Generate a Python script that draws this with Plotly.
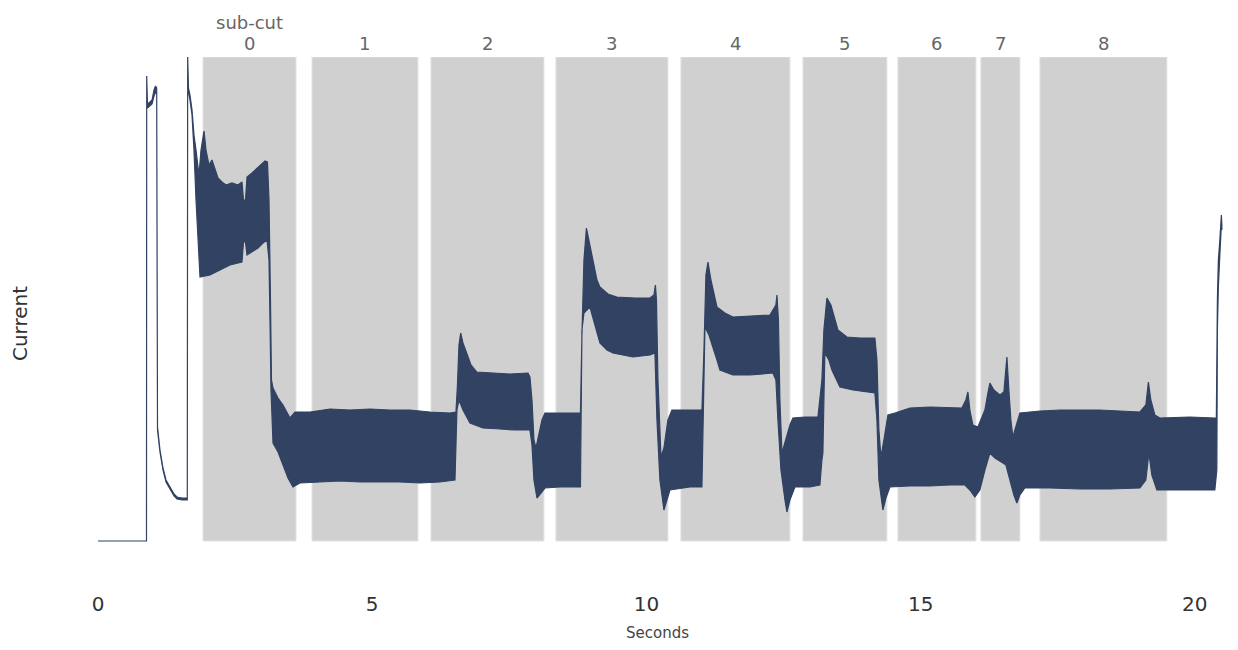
import plotly.graph_objects as go

# ---- data (time in seconds, current in arbitrary units) ----
upper_t = [0, 0.884, 0.888, 0.902, 0.948, 0.985, 1.021, 1.048, 1.070, 1.085, 1.130, 1.185, 1.240,
           1.313, 1.386, 1.440, 1.531, 1.628, 1.635, 1.650, 1.677, 1.714, 1.750, 1.787, 1.841, 1.878,
           1.933, 1.969, 2.024, 2.078, 2.133, 2.188, 2.261, 2.334, 2.443, 2.552, 2.625, 2.653, 2.689,
           2.717, 2.808, 2.899, 2.990, 3.045, 3.090, 3.118, 3.145, 3.163, 3.191, 3.282, 3.373, 3.501,
           3.592, 3.683, 3.865, 4.230, 4.594, 4.959, 5.324, 5.688, 6.053, 6.418, 6.527, 6.554, 6.582,
           6.613, 6.655, 6.722, 6.801, 6.904, 7.147, 7.512, 7.840, 7.876, 7.913, 7.949, 7.986, 8.040,
           8.095, 8.150, 8.423, 8.697, 8.797, 8.824, 8.861, 8.906, 8.970, 9.025, 9.098, 9.152, 9.298,
           9.462, 9.791, 10.064, 10.137, 10.164, 10.183, 10.210, 10.265, 10.319, 10.392, 10.465, 10.793,
           11.012, 11.049, 11.085, 11.122, 11.176, 11.286, 11.431, 11.577, 11.887, 12.252, 12.361,
           12.380, 12.407, 12.434, 12.471, 12.544, 12.617, 12.671, 12.890, 13.127, 13.163, 13.200,
           13.236, 13.291, 13.364, 13.437, 13.492, 13.656, 13.893, 14.166, 14.203, 14.239, 14.276,
           14.330, 14.403, 14.531, 14.804, 15.169, 15.534, 15.752, 15.825, 15.862, 15.898, 15.953,
           16.044, 16.099, 16.172, 16.226, 16.263, 16.336, 16.445, 16.518, 16.555, 16.573, 16.609,
           16.646, 16.682, 16.737, 16.810, 17.175, 17.539, 17.904, 18.268, 18.633, 18.998, 19.107,
           19.153, 19.198, 19.271, 19.362, 19.909, 20.365, 20.392, 20.411, 20.429, 20.456, 20.484,
           20.493]
upper_i = [0, 0, 465, 437, 439, 441, 451, 455, 453, 114, 91, 73, 61,
           54, 47, 44, 43, 43, 484, 453, 446, 431, 406, 391, 366, 391,
           410, 391, 376, 381, 371, 363, 359, 356, 358, 356, 359, 341, 341,
           364, 368, 373, 377, 380, 379, 341, 241, 161, 153, 143, 136, 123,
           129, 129, 129, 132, 131, 132, 131, 131, 129, 128, 129, 156, 196,
           208, 198, 188, 176, 169, 168, 167, 168, 164, 141, 101, 93, 108,
           121, 128, 128, 128, 128, 206, 281, 313, 296, 278, 261, 254, 247,
           244, 243, 243, 246, 256, 241, 161, 84, 93, 121, 131, 131,
           131, 191, 266, 279, 261, 234, 228, 224, 225, 226, 236,
           246, 221, 141, 88, 101, 116, 123, 124, 124, 141, 161,
           211, 243, 236, 221, 211, 204, 203, 203, 181, 111, 84,
           101, 126, 128, 133, 134, 133, 133, 141, 149, 131, 116,
           114, 121, 131, 148, 158, 151, 146, 149, 171, 184, 151,
           121, 104, 114, 128, 130, 131, 131, 131, 130, 129, 136,
           159, 141, 126, 123, 124, 123, 123, 241, 281, 301, 326,
           316]

lower_t = [0, 0.884, 0.888, 0.902, 0.948, 0.985, 1.021, 1.048, 1.070, 1.085, 1.130, 1.185, 1.240,
           1.313, 1.386, 1.440, 1.531, 1.628, 1.635, 1.650, 1.677, 1.714, 1.750, 1.787, 1.823, 1.860,
           2.042, 2.224, 2.407, 2.552, 2.625, 2.653, 2.689, 2.717, 2.808, 2.918, 3.009, 3.082, 3.118,
           3.136, 3.154, 3.172, 3.191, 3.282, 3.373, 3.464, 3.555, 3.683, 4.048, 4.412, 4.777, 5.141,
           5.506, 5.871, 6.235, 6.509, 6.545, 6.582, 6.655, 6.782, 7.019, 7.329, 7.603, 7.876, 7.913,
           7.949, 8.004, 8.058, 8.150, 8.423, 8.697, 8.797, 8.824, 8.861, 8.915, 8.970, 9.061, 9.152,
           9.280, 9.389, 9.754, 10.064, 10.155, 10.192, 10.246, 10.319, 10.374, 10.429, 10.793, 11.012,
           11.039, 11.067, 11.140, 11.213, 11.286, 11.340, 11.577, 11.887, 12.307, 12.361, 12.398,
           12.453, 12.526, 12.562, 12.617, 12.708, 12.981, 13.163, 13.200, 13.218, 13.236, 13.254,
           13.327, 13.382, 13.528, 13.765, 14.166, 14.203, 14.239, 14.312, 14.367, 14.440, 14.804,
           15.169, 15.534, 15.807, 15.898, 15.989, 16.080, 16.172, 16.263, 16.354, 16.500, 16.555,
           16.628, 16.700, 16.755, 16.810, 16.901, 17.357, 17.904, 18.451, 18.998, 19.107, 19.162,
           19.216, 19.307, 19.545, 19.909, 20.365, 20.401, 20.411, 20.429, 20.456, 20.484, 20.493]
lower_i = [0, 0, 461, 433, 435, 437, 445, 449, 447, 111, 89, 71, 59,
           52, 45, 42, 41, 41, 481, 449, 441, 426, 391, 341, 301, 264,
           266, 271, 276, 278, 279, 299, 299, 286, 289, 293, 298, 301, 281,
           221, 151, 121, 98, 89, 76, 63, 54, 58, 59, 60, 59, 59,
           59, 58, 59, 61, 131, 141, 131, 118, 113, 112, 111, 111, 96,
           61, 43, 47, 53, 54, 54, 54, 211, 228, 231, 234, 216, 198,
           191, 188, 184, 186, 188, 121, 61, 31, 41, 51, 54, 54,
           141, 214, 206, 194, 181, 171, 166, 166, 168, 161, 121,
           71, 41, 29, 41, 54, 54, 56, 81, 88, 141, 188,
           181, 171, 154, 151, 148, 121, 61, 31, 43, 54, 55,
           55, 56, 56, 51, 44, 51, 71, 88, 83, 78, 76,
           61, 46, 38, 46, 53, 53, 52, 52, 53, 61, 88,
           66, 51, 51, 51, 51, 71, 211, 254, 286, 316, 311]

cut_labels = ["0", "1", "2", "3", "4", "5", "6", "7", "8"]
cut_start = [1.914, 3.902, 6.071, 8.350, 10.629, 12.854, 14.586, 16.099, 17.175]
cut_end = [3.610, 5.834, 8.131, 10.392, 12.617, 14.385, 16.008, 16.810, 19.490]

x_ticks = [0, 5, 10, 15, 20]

# ---- figure ----
FONT = "DejaVu Sans"
NAVY = "#314262"
Y_TOP = 484

fig = go.Figure()

# signal band: upper envelope forward, lower envelope backward (closed polygon)
poly_t = upper_t + lower_t[::-1]
poly_i = upper_i + lower_i[::-1]
fig.add_trace(go.Scatter(
    x=poly_t, y=poly_i, mode="lines", fill="toself",
    fillcolor=NAVY, line=dict(color=NAVY, width=1.2),
    hoverinfo="skip", showlegend=False,
))

for lab, a, b in zip(cut_labels, cut_start, cut_end):
    fig.add_shape(type="rect", xref="x", yref="y", x0=a, x1=b, y0=0, y1=Y_TOP,
                  fillcolor="#d0d0d0", line=dict(color="#e2e2e2", width=1), layer="below")
    fig.add_annotation(x=(a + b) / 2, xref="x", y=1, yref="paper", yanchor="middle",
                       yshift=14, text=lab, showarrow=False,
                       font=dict(family=FONT, size=18, color="#666666"))

fig.add_annotation(x=(cut_start[0] + cut_end[0]) / 2, xref="x", y=1, yref="paper",
                   yanchor="middle", yshift=35, text="sub-cut", showarrow=False,
                   font=dict(family=FONT, size=18, color="#666666"))

# the page body adds an 8px offset; margins compensate for it
fig.update_layout(
    width=1238, height=650,
    margin=dict(l=82, r=21, t=49, b=68),
    paper_bgcolor="white", plot_bgcolor="white",
    showlegend=False,
    font=dict(family=FONT),
    xaxis=dict(range=[-0.146, 20.55], tickvals=x_ticks, ticktext=[str(v) for v in x_ticks],
               showgrid=False, zeroline=False, showline=False, ticks="",
               tickfont=dict(family=FONT, size=20, color="#333333"),
               title=dict(text="Seconds", font=dict(family=FONT, size=15, color="#444444"),
                          standoff=12)),
    yaxis=dict(range=[-49, Y_TOP], showticklabels=False, showgrid=False, zeroline=False,
               showline=False, ticks="",
               title=dict(text="Current", font=dict(family=FONT, size=20, color="#333333"),
                          standoff=57)),
)

fig.write_html("out.html")
